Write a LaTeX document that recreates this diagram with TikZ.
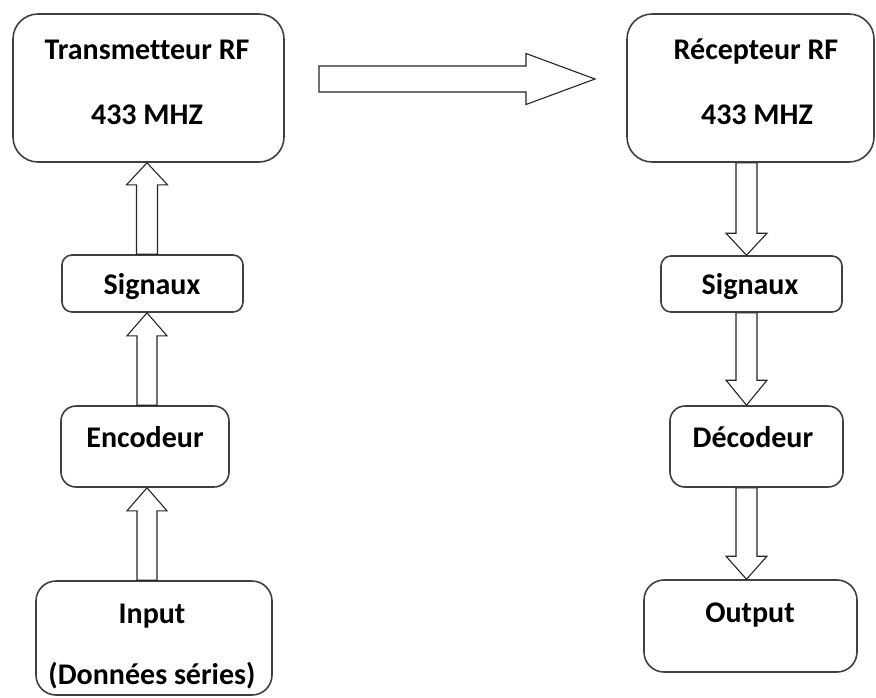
\documentclass[tikz,border=0pt]{standalone}
\usepackage{fontspec}
\setmainfont[Ligatures={NoCommon}]{Carlito}
\usetikzlibrary{calc}
\definecolor{boxline}{HTML}{404040}
\tikzset{
  box/.style={draw=boxline, line width=1.6pt, fill=white, rectangle, inner sep=0pt},
  lbl/.style={font=\fontsize{30}{35}\selectfont\bfseries, anchor=base, inner sep=0pt},
  blk/.style={draw=black!85, line width=1.1pt, fill=white, line join=miter},
}
\newcommand\blockarrow[5]{%
  \path ($(#2)!#5!(#1)$) coordinate (hb);
  \draw[blk] ($(#1)!#3!90:(#2)$) -- ($(hb)!#3!-90:(#1)$) -- ($(hb)!#4!-90:(#1)$) -- (#2)
    -- ($(hb)!#4!90:(#1)$) -- ($(hb)!#3!90:(#1)$) -- ($(#1)!#3!-90:(#2)$) -- cycle;}
\begin{document}
\begin{tikzpicture}[x=1pt,y=-1pt]
\useasboundingbox (0,0) rectangle (876,697);
% boxes
\node[box, rounded corners=25pt, minimum width=271pt, minimum height=148pt] (tx) at (148.5,88) {};
\node[box, rounded corners=25pt, minimum width=247pt, minimum height=148pt] (rx) at (750.5,88) {};
\node[box, rounded corners=10pt, minimum width=181pt, minimum height=57pt] (sigl) at (152.5,283.5) {};
\node[box, rounded corners=10pt, minimum width=181pt, minimum height=56pt] (sigr) at (751.5,284) {};
\node[box, rounded corners=15pt, minimum width=168pt, minimum height=81pt] (enc) at (145,446.5) {};
\node[box, rounded corners=15pt, minimum width=173pt, minimum height=81pt] (dec) at (756.5,446.5) {};
\node[box, rounded corners=20pt, minimum width=236pt, minimum height=114pt] (inp) at (154,638) {};
\node[box, rounded corners=20pt, minimum width=213pt, minimum height=92pt] (out) at (750.5,626) {};
% labels
\node[lbl] (t1) at (147,59) {Transmetteur RF};
\node[lbl] (t2) at (147,124) {433 MHZ};
\node[lbl] (r1) at (756,59) {Récepteur RF};
\node[lbl] (r2) at (757,124) {433 MHZ};
\node[lbl] (s1) at (152,294) {Signaux};
\node[lbl] (s2) at (750,294) {Signaux};
\node[lbl] (e1) at (145,447) {Encodeur};
\node[lbl] (d1) at (753,447) {Décodeur};
\node[lbl] (i1) at (152,623) {Input};
\node[lbl] (i2) at (152,684) {(Données séries)};
\node[lbl] (o1) at (750,622) {Output};
% arrow axes
\coordinate (axL) at (147,0);
\coordinate (axR) at (746.5,0);
% left column (upwards)
\blockarrow{inp.north -| axL}{enc.south -| axL}{10pt}{20pt}{23pt}
\blockarrow{enc.north -| axL}{sigl.south -| axL}{10pt}{20pt}{23pt}
\blockarrow{sigl.north -| axL}{tx.south -| axL}{10.5pt}{20.5pt}{22pt}
% right column (downwards)
\blockarrow{rx.south -| axR}{sigr.north -| axR}{10.5pt}{20.5pt}{22pt}
\blockarrow{sigr.south -| axR}{dec.north -| axR}{10.5pt}{20.5pt}{25pt}
\blockarrow{dec.south -| axR}{out.north -| axR}{10.5pt}{20.5pt}{23pt}
% big horizontal arrow
\coordinate (bigA) at (319,79);
\coordinate (bigB) at (595,79);
\blockarrow{bigA}{bigB}{13pt}{25.5pt}{69pt}
\end{tikzpicture}
\end{document}
